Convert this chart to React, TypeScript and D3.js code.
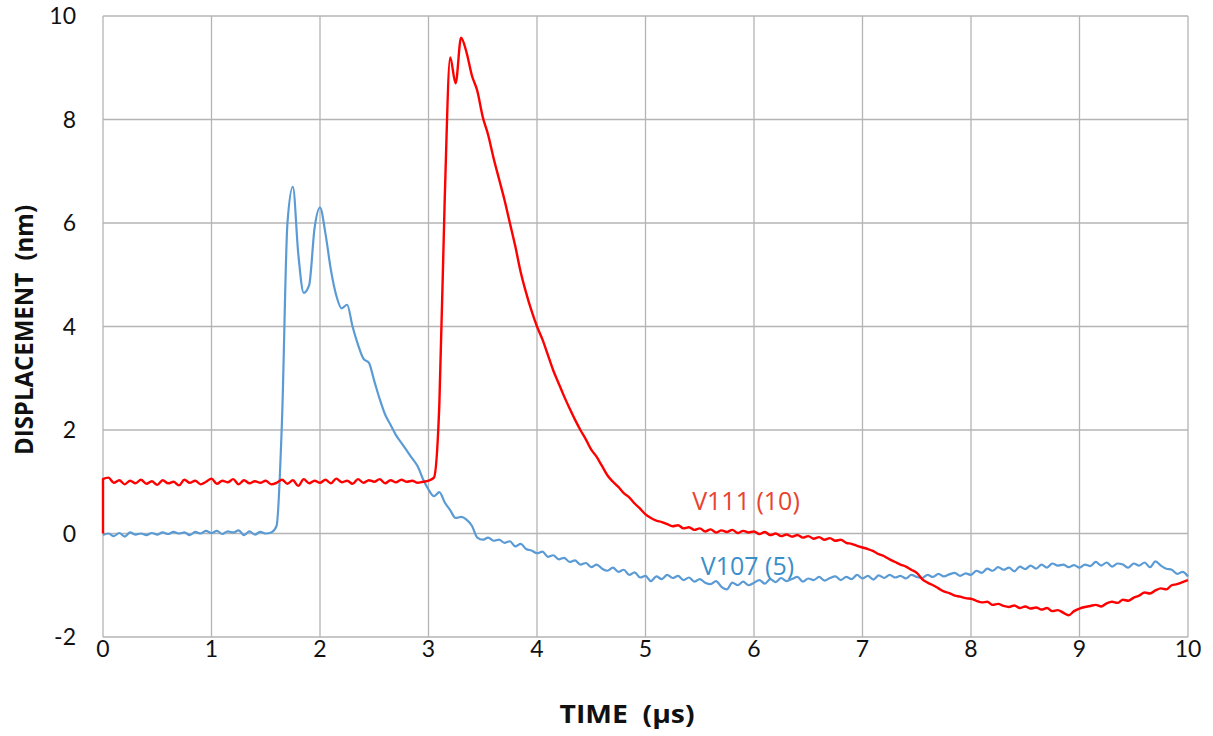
import React from "react";
import * as d3 from "d3";

// Sample step of both traces (µs)
const timeStep = 0.05;

// V111 (10) trace, one value every 0.05 µs from 0 to 10 µs
const v111Values = [
    1.05, 1.08, 0.98, 1.03, 0.95, 1.02, 0.97, 1.04, 0.96, 1.01,
    0.94, 1.03, 0.97, 1.0, 0.93, 1.04, 0.98, 1.02, 0.95, 1.0,
    1.06, 0.96, 1.02, 0.99, 1.05, 0.95, 1.03, 0.97, 1.01, 0.98,
    1.02, 0.95, 0.98, 1.04, 0.96, 1.03, 0.92, 1.05, 0.97, 1.02,
    0.98, 1.04, 0.97, 1.06, 0.99, 1.02, 0.96, 1.05, 0.98, 1.03,
    1.0, 1.05, 0.97, 1.03, 0.99, 1.04, 1.0, 1.02, 0.98, 1.0,
    1.02, 1.08, 2.5, 6.5, 9.2, 8.7, 9.58, 9.3, 8.85, 8.55,
    8.05, 7.7, 7.25, 6.85, 6.45, 6.0, 5.55, 5.05, 4.65, 4.3,
    4.0, 3.75, 3.45, 3.15, 2.9, 2.65, 2.42, 2.2, 2.0, 1.82,
    1.62, 1.48, 1.3, 1.12, 1.0, 0.9, 0.78, 0.7, 0.58, 0.48,
    0.37, 0.3, 0.25, 0.22, 0.18, 0.14, 0.16, 0.1, 0.12, 0.07,
    0.1, 0.04, 0.08, 0.02, 0.06, 0.03, 0.07, 0.01, 0.05, 0.02,
    0.04, -0.01, 0.03, -0.03, 0.0, -0.05, -0.02, -0.06, -0.03, -0.08,
    -0.05, -0.1, -0.07, -0.12, -0.09, -0.14, -0.12, -0.18, -0.2, -0.24,
    -0.27, -0.3, -0.34, -0.4, -0.44, -0.5, -0.55, -0.6, -0.64, -0.7,
    -0.76, -0.88, -0.95, -1.0, -1.06, -1.12, -1.15, -1.2, -1.22, -1.25,
    -1.26, -1.3, -1.33, -1.32, -1.38, -1.36, -1.4, -1.42, -1.39, -1.44,
    -1.41, -1.45, -1.43, -1.47, -1.44, -1.5, -1.48, -1.53, -1.58, -1.5,
    -1.45, -1.42, -1.4, -1.38, -1.41, -1.35, -1.32, -1.34, -1.28, -1.3,
    -1.24, -1.2, -1.14, -1.16, -1.1, -1.06, -1.08, -1.0, -0.98, -0.94,
    -0.9,
];
// the red trace starts from zero at t = 0
const v111Start = 0;

// V107 (5) trace, one value every 0.05 µs from 0 to 10 µs
const v107Values = [
    -0.03, 0.0, -0.05, 0.01, -0.06, 0.02, -0.02, 0.0, -0.03, 0.01,
    -0.02, 0.02, -0.01, 0.03, 0.0, 0.02, -0.03, 0.03, 0.0, 0.05,
    0.01, 0.05, -0.01, 0.04, 0.02, 0.06, -0.03, 0.04, -0.02, 0.03,
    0.0, 0.02, 0.15, 2.2, 6.0, 6.7, 5.4, 4.65, 4.8, 5.9,
    6.3, 5.8, 5.1, 4.6, 4.35, 4.42, 4.0, 3.65, 3.38, 3.3,
    2.95, 2.6, 2.3, 2.1, 1.9, 1.75, 1.6, 1.45, 1.3, 1.05,
    0.85, 0.72, 0.8, 0.6, 0.45, 0.3, 0.32, 0.27, 0.15, -0.08,
    -0.12, -0.08, -0.14, -0.12, -0.18, -0.15, -0.25, -0.2, -0.3, -0.33,
    -0.38, -0.35, -0.45, -0.42, -0.5, -0.47, -0.55, -0.52, -0.6, -0.57,
    -0.65, -0.6, -0.68, -0.72, -0.66, -0.74, -0.7, -0.8, -0.75, -0.85,
    -0.82, -0.92, -0.83, -0.88, -0.8, -0.86, -0.82, -0.9, -0.85, -0.93,
    -0.88, -0.95, -0.98, -0.92, -1.03, -1.08, -0.95, -1.0, -0.93, -1.0,
    -0.95, -0.9, -0.97, -0.88, -0.94, -0.86, -0.92, -0.88, -0.84, -0.93,
    -0.87, -0.9, -0.84, -0.91, -0.86, -0.83, -0.9, -0.84, -0.88, -0.8,
    -0.87, -0.82, -0.89, -0.81, -0.86, -0.8, -0.85, -0.82, -0.87, -0.8,
    -0.84, -0.86, -0.8, -0.84, -0.78, -0.83, -0.79, -0.76, -0.82, -0.77,
    -0.8, -0.72, -0.76, -0.68, -0.72, -0.65, -0.7, -0.66, -0.73, -0.64,
    -0.69, -0.62, -0.68, -0.6, -0.66, -0.58, -0.62, -0.6, -0.65, -0.61,
    -0.66, -0.6, -0.63, -0.55, -0.62, -0.56, -0.64, -0.58, -0.6, -0.66,
    -0.58, -0.62, -0.56, -0.65, -0.54, -0.62, -0.68, -0.7, -0.78, -0.74,
    -0.83,
];

// Tick values
const xTicks = [0, 1, 2, 3, 4, 5, 6, 7, 8, 9, 10];
const yTicks = [-2, 0, 2, 4, 6, 8, 10];

// Series labels
const seriesLabels = [
    { name: "V111 (10)", at: [5.43, 0.45], color: "#e8432f" },
    { name: "V107 (5)", at: [5.51, -0.8], color: "#3b8fc9" },
];

const width = 1213;
const height = 736;
const margin = { top: 16, right: 25, bottom: 99, left: 103 };
const tickFont = "Lato, 'Open Sans', sans-serif";
const titleFont = "'Open Sans', sans-serif";

export default function App() {
    // Scales
    const x = d3.scaleLinear().domain([0, 10]).range([margin.left, width - margin.right]);
    const y = d3.scaleLinear().domain([-2, 10]).range([height - margin.bottom, margin.top]);

    const line = d3.line<[number, number]>()
        .x(d => x(d[0]))
        .y(d => y(d[1]))
        .curve(d3.curveMonotoneX);

    const redPoints: [number, number][] = [[0, v111Start], ...v111Values.map((v, i) => [i * timeStep, v] as [number, number])];
    const bluePoints: [number, number][] = v107Values.map((v, i) => [i * timeStep, v]);

    return (
        <div style={{ position: "absolute", left: 0, top: 0 }}>
            <svg width={width} height={height} style={{ display: "block", background: "#fff" }}>
                {/* grid */}
                <g stroke="#b4b4b4" strokeWidth={1.3}>
                    {xTicks.map(t => (
                        <line key={`gx${t}`} x1={x(t)} x2={x(t)} y1={y(-2)} y2={y(10)} />
                    ))}
                    {yTicks.map(t => (
                        <line key={`gy${t}`} x1={x(0)} x2={x(10)} y1={y(t)} y2={y(t)} />
                    ))}
                </g>

                {/* tick labels */}
                <g fontFamily={tickFont} fontSize={23} fill="#111">
                    {yTicks.map(t => (
                        <text key={`ly${t}`} x={76} y={y(t)} dy="0.36em" textAnchor="end">{t}</text>
                    ))}
                    {xTicks.map(t => (
                        <text key={`lx${t}`} x={x(t)} y={657} textAnchor="middle">{t}</text>
                    ))}
                </g>

                {/* axis titles */}
                <text x={627} y={723} textAnchor="middle" fontFamily={titleFont} fontWeight="bold" fontSize={25}
                    fill="#111" style={{ whiteSpace: "pre" }} textLength={135} lengthAdjust="spacingAndGlyphs">
                    {"TIME  (µs)"}
                </text>
                <text transform="translate(33, 330) rotate(-90)" textAnchor="middle" fontFamily={titleFont} fontWeight="bold"
                    fontSize={25} fill="#111" style={{ whiteSpace: "pre" }} textLength={250} lengthAdjust="spacingAndGlyphs">
                    {"DISPLACEMENT  (nm)"}
                </text>

                {/* traces */}
                <path d={line(bluePoints) ?? ""} fill="none" stroke="#5b9bd5" strokeWidth={2.2} strokeLinejoin="round" />
                <path d={line(redPoints) ?? ""} fill="none" stroke="#ff0000" strokeWidth={2.4} strokeLinejoin="round" />

                {/* series labels */}
                {seriesLabels.map(s => (
                    <text key={s.name} x={x(s.at[0])} y={y(s.at[1])} fontFamily={titleFont} fontSize={25} fill={s.color}>
                        {s.name}
                    </text>
                ))}
            </svg>
        </div>
    );
}
